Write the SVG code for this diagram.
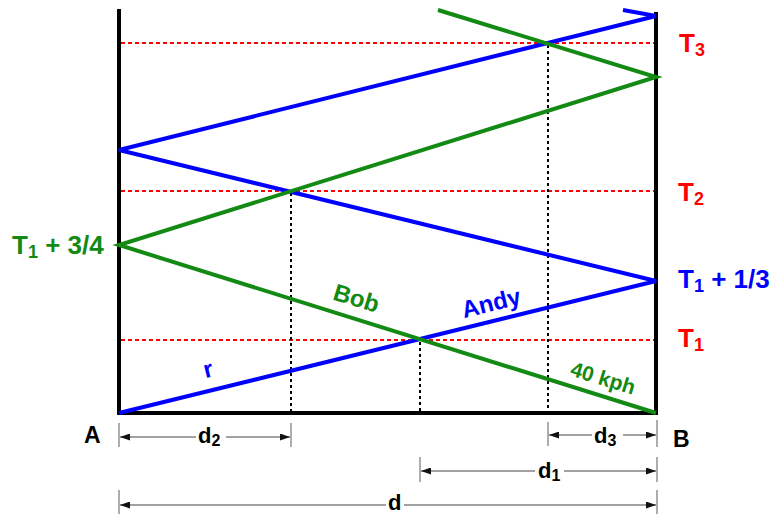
<svg xmlns="http://www.w3.org/2000/svg" width="778" height="514" viewBox="0 0 778 514">
<style>
text{font-family:"Liberation Sans",Arial,sans-serif;font-weight:bold}
.red{fill:#ff0000}
.blue{fill:#0000ff}
.green{fill:#138a13}
.blk{fill:#000}
.tl{font-size:26px}
.sub{font-size:18px}
.lbl{font-size:24px}
.dl{font-size:22px}
.ds{font-size:16px}
.dim{stroke:#444;stroke-width:1.2;fill:none}
.tick{stroke:#777;stroke-width:1.2}
.hdash{stroke:#ff0000;stroke-width:2;stroke-dasharray:4,3}
.vdot{stroke:#000;stroke-width:2;stroke-dasharray:3,3}
.path{fill:none;stroke-width:4;stroke-linejoin:miter}
</style>
<defs>
<marker id="ah" viewBox="0 0 10 7" refX="10" refY="3.5" markerWidth="11" markerHeight="7" markerUnits="userSpaceOnUse" orient="auto-start-reverse">
<path d="M0,0 L10,3.5 L0,7 z" fill="#111"/>
</marker>
</defs>
<rect width="778" height="514" fill="#fff"/>
<g id="guides">
<line class="hdash" x1="121" y1="43" x2="654" y2="43"/>
<line class="hdash" x1="121" y1="191" x2="654" y2="191"/>
<line class="hdash" x1="121" y1="340" x2="654" y2="340"/>
<line class="vdot" x1="291" y1="193" x2="291" y2="411"/>
<line class="vdot" x1="420" y1="342" x2="420" y2="411"/>
<line class="vdot" x1="548" y1="45" x2="548" y2="411"/>
</g>
<g id="frame">
<line x1="119" y1="9" x2="119" y2="415" stroke="#000" stroke-width="4"/>
<line x1="656" y1="12" x2="656" y2="415" stroke="#000" stroke-width="4"/>
<line x1="117" y1="413" x2="658" y2="413" stroke="#000" stroke-width="4"/>
</g>
<g id="connectors">
<polyline id="andy" class="path" stroke="#0000ff" points="119,413 656,281 119,150 656,16 623,10"/>
<polyline id="bob" class="path" stroke="#138a13" points="656,413 119,245 656,77 438,10"/>
</g>
<g id="time-labels">
<text class="tl red" x="679" y="52">T<tspan class="sub" dy="4">3</tspan></text>
<text class="tl red" x="678" y="201">T<tspan class="sub" dy="4">2</tspan></text>
<text class="tl blue" x="678" y="288">T<tspan class="sub" dy="4">1</tspan><tspan dy="-4"> + 1/3</tspan></text>
<text class="tl red" x="678" y="347">T<tspan class="sub" dy="4">1</tspan></text>
<text class="tl green" x="12" y="254">T<tspan class="sub" dy="4">1</tspan><tspan dy="-4"> + 3/4</tspan></text>
</g>
<g id="line-labels">
<text class="lbl green" text-anchor="middle" transform="translate(354,306) rotate(17)">Bob</text>
<text class="lbl blue" text-anchor="middle" transform="translate(493,311) rotate(-14)">Andy</text>
<text class="lbl blue" text-anchor="middle" transform="translate(210,377) rotate(-14)">r</text>
<text class="green" font-size="21" text-anchor="middle" transform="translate(601,385) rotate(17)">40 kph</text>
</g>
<g id="points">
<text class="blk" font-size="23" x="84" y="443">A</text>
<text class="blk" font-size="23" x="673" y="447">B</text>
</g>
<g id="dimensions">
<line class="tick" x1="119" y1="423" x2="119" y2="447"/>
<line class="tick" x1="291" y1="423" x2="291" y2="447"/>
<line class="tick" x1="548" y1="422" x2="548" y2="446"/>
<line class="tick" x1="657" y1="420" x2="657" y2="447"/>
<line class="tick" x1="420" y1="457" x2="420" y2="482"/>
<line class="tick" x1="657" y1="457" x2="657" y2="482"/>
<line class="tick" x1="119" y1="490" x2="119" y2="514"/>
<line class="tick" x1="657" y1="490" x2="657" y2="514"/>
<line class="dim" x1="196" y1="437" x2="120" y2="437" marker-end="url(#ah)"/>
<line class="dim" x1="226" y1="437" x2="290" y2="437" marker-end="url(#ah)"/>
<line class="dim" x1="592" y1="435" x2="549" y2="435" marker-end="url(#ah)"/>
<line class="dim" x1="623" y1="435" x2="656" y2="435" marker-end="url(#ah)"/>
<line class="dim" x1="535" y1="471" x2="421" y2="471" marker-end="url(#ah)"/>
<line class="dim" x1="564" y1="471" x2="656" y2="471" marker-end="url(#ah)"/>
<line class="dim" x1="386" y1="505" x2="120" y2="505" marker-end="url(#ah)"/>
<line class="dim" x1="404" y1="505" x2="656" y2="505" marker-end="url(#ah)"/>
<text class="blk dl" x="198" y="443">d<tspan class="ds" dy="3">2</tspan></text>
<text class="blk dl" x="594" y="443">d<tspan class="ds" dy="3">3</tspan></text>
<text class="blk dl" x="538" y="478">d<tspan class="ds" dy="3">1</tspan></text>
<text class="blk dl" x="388" y="510">d</text>
</g>
</svg>
